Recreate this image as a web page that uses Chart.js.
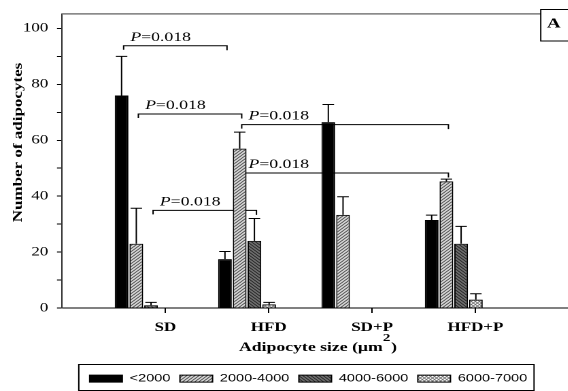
<!DOCTYPE html>
<html>
<head>
<meta charset="utf-8">
<script src="https://cdn.jsdelivr.net/npm/chart.js@4.4.1/dist/chart.umd.min.js"></script>
<style>
  html, body { margin: 0; padding: 0; overflow: hidden; background: #fff; }
  /* the figure's type is set wide, so the whole drawing is stretched sideways */
  #wrap { width: 418px; height: 394px; transform: scaleX(1.36); transform-origin: 0 0; }
</style>
</head>
<body>
<div id="wrap"><canvas id="chart" width="418" height="394"></canvas></div>
<script>
const S = 1.36;

const categories = ["SD", "HFD", "SD+P", "HFD+P"];
const sizeBins = ["<2000", "2000-4000", "4000-6000", "6000-7000"];

const lt2000 = [76, 17.5, 66.5, 31.5];
const s2000to4000 = [23, 57, 33.3, 45.3];
const s4000to6000 = [1, 24, 0, 23];
const s6000to7000 = [0, 1.3, 0, 3];

const lt2000Err = [14, 2.7, 6.3, 1.7];
const s2000to4000Err = [12.7, 5.9, 6.5, 0.8];
const s4000to6000Err = [1, 8, 0, 6.2];
const s6000to7000Err = [0, 0.7, 0, 2.1];

const yTickValues = [0, 10, 20, 30, 40, 50, 60, 70, 80, 90, 100];

// P-value brackets: series, from category, to category, height
const pSeries = [0, 1, 1, 1, 2];
const pFrom = [0, 0, 1, 1, 0];
const pTo = [1, 1, 3, 3, 1];
const pLevel = [93.8, 69.4, 65.6, 48.3, 34.9];
const pValue = ["0.018", "0.018", "0.018", "0.018", "0.018"];

const seriesValues = [lt2000, s2000to4000, s4000to6000, s6000to7000];
const seriesErrors = [lt2000Err, s2000to4000Err, s4000to6000Err, s6000to7000Err];

function makePattern(bg, fg, kind) {
  const c = document.createElement("canvas");
  c.width = c.height = 6;
  const g = c.getContext("2d");
  g.fillStyle = bg;
  g.fillRect(0, 0, 6, 6);
  g.strokeStyle = fg;
  g.lineWidth = 1.3;
  g.beginPath();
  if (kind === "/" || kind === "x") {
    g.moveTo(-1, 7); g.lineTo(7, -1);
    g.moveTo(-4, 4); g.lineTo(4, -4);
    g.moveTo(2, 10); g.lineTo(10, 2);
  }
  if (kind === "\\" || kind === "x") {
    g.moveTo(-1, -1); g.lineTo(7, 7);
    g.moveTo(-4, 2); g.lineTo(4, 10);
    g.moveTo(2, -4); g.lineTo(10, 4);
  }
  g.stroke();
  const p = g.createPattern(c, "repeat");
  p.setTransform(new DOMMatrix().scale(0.5));
  return p;
}

const fills = [
  "#000",
  makePattern("#d6d6d6", "#3a3a3a", "/"),
  makePattern("#6e6e6e", "#1c1c1c", "\\"),
  makePattern("#ffffff", "#6a6a6a", "x"),
];

function pText(ctx, x, y, value) {
  ctx.textAlign = "left";
  ctx.textBaseline = "alphabetic";
  ctx.font = "italic 13px 'Liberation Serif'";
  ctx.fillText("P", x, y);
  const w = ctx.measureText("P").width;
  ctx.font = "13px 'Liberation Serif'";
  ctx.fillText("=" + value, x + w, y);
}

const extras = {
  id: "extras",
  afterLayout(chart) {
    // the legend sits a little left of the plot centre
    const lg = chart.legend;
    lg.left -= 5;
    lg.right -= 5;
    if (lg.adjustHitBoxes) lg.adjustHitBoxes();
  },
  beforeDatasetsDraw(chart) {
    const ctx = chart.ctx, y = chart.scales.y;
    ctx.save();
    ctx.strokeStyle = "#000";
    ctx.fillStyle = "#000";
    ctx.lineWidth = 1;
    pLevel.forEach((lv, k) => {
      const meta = chart.getDatasetMeta(pSeries[k]);
      const x1 = meta.data[pFrom[k]].x + 1.5;
      const x2 = meta.data[pTo[k]].x + 1.5;
      const yy = y.getPixelForValue(lv);
      ctx.beginPath();
      ctx.moveTo(x1, yy + 4);
      ctx.lineTo(x1, yy);
      ctx.lineTo(x2, yy);
      ctx.lineTo(x2, yy + 4.5);
      ctx.stroke();
      pText(ctx, x1 + 5, yy - 5, pValue[k]);
    });
    ctx.restore();
  },
  afterDatasetsDraw(chart) {
    const ctx = chart.ctx, y = chart.scales.y;
    ctx.save();
    ctx.strokeStyle = "#000";
    ctx.lineWidth = 1;
    seriesValues.forEach((vals, d) => {
      chart.getDatasetMeta(d).data.forEach((bar, i) => {
        const e = seriesErrors[d][i];
        if (!e) return;
        const top = y.getPixelForValue(vals[i] + e);
        const half = bar.width * 0.42;
        ctx.beginPath();
        ctx.moveTo(bar.x, bar.y);
        ctx.lineTo(bar.x, top);
        ctx.moveTo(bar.x - half, top);
        ctx.lineTo(bar.x + half, top);
        ctx.stroke();
      });
    });
    ctx.restore();
  },
  afterDraw(chart) {
    const ctx = chart.ctx, a = chart.chartArea;
    ctx.save();
    ctx.fillStyle = "#000";

    // top frame and panel letter
    const boxL = 397.6;
    ctx.strokeStyle = "#7a7a7a";
    ctx.lineWidth = 1.5;
    ctx.beginPath();
    ctx.moveTo(a.left, a.top);
    ctx.lineTo(boxL, a.top);
    ctx.stroke();
    ctx.strokeStyle = "#000";
    ctx.lineWidth = 1;
    ctx.strokeRect(boxL, 9.5, 30, 31.5);
    ctx.font = "bold 14px 'Liberation Serif'";
    ctx.textAlign = "center";
    ctx.textBaseline = "middle";
    ctx.fillText("A", 407.2, 24);

    // y title, wide along its own baseline
    ctx.save();
    ctx.translate(13.5, 142.5);
    ctx.scale(1 / S, 1);
    ctx.rotate(-Math.PI / 2);
    ctx.scale(S, 1);
    ctx.font = "bold 12.5px 'Liberation Serif'";
    ctx.fillText("Number of adipocytes", 0, 0);
    ctx.restore();

    // x title with raised 2
    ctx.font = "bold 13px 'Liberation Serif'";
    ctx.textAlign = "left";
    ctx.textBaseline = "alphabetic";
    const main = "Adipocyte size (\u00b5m";
    const w1 = ctx.measureText(main).width;
    const wc = ctx.measureText(")").width;
    const gap = 6;
    const x0 = (a.left + a.right) / 2 + 2 - (w1 + gap + wc) / 2;
    ctx.fillText(main, x0, 351);
    ctx.fillText(")", x0 + w1 + gap, 351);
    ctx.font = "bold 11px 'Liberation Serif'";
    ctx.fillText("2", x0 + w1, 341);

    // legend frame
    const hb = chart.legend.legendHitBoxes;
    if (hb && hb.length) {
      const last = hb[hb.length - 1];
      const l = hb[0].left - 8;
      const r = last.left + last.width + 5;
      ctx.strokeRect(l, 364.5, r - l, 26);
    }
    ctx.restore();
  },
};

Chart.defaults.font.family = "'Liberation Serif'";
Chart.defaults.color = "#000";

new Chart("chart", {
  type: "bar",
  data: {
    datasets: sizeBins.map((name, d) => ({
      label: name,
      data: seriesValues[d].map((v, i) => ({ x: i + 1, y: v })),
      xAxisID: "xb",
      backgroundColor: fills[d],
      borderColor: "#000",
      borderWidth: 1,
      categoryPercentage: 0.57,
      barPercentage: 0.93,
    })),
  },
  options: {
    responsive: false,
    devicePixelRatio: 2,
    animation: false,
    layout: { padding: { top: 9.3, left: 0, right: 0, bottom: 0 } },
    plugins: {
      tooltip: { enabled: false },
      legend: {
        position: "bottom",
        fullSize: false,
        labels: {
          boxWidth: 24,
          boxHeight: 7,
          padding: 7,
          color: "#000",
          font: { family: "'Liberation Sans'", size: 10.7 },
        },
      },
    },
    scales: {
      xb: {
        type: "linear",
        display: false,
        offset: false,
        grid: { offset: false },
        min: 0.21,
        max: 5.11,
        afterBuildTicks: (s) => { s.ticks = categories.map((c, i) => ({ value: i + 1 })); },
      },
      x: {
        type: "linear",
        position: "bottom",
        offset: false,
        min: 0,
        max: 4.9,
        afterBuildTicks: (s) => { s.ticks = categories.map((c, i) => ({ value: i + 1 })); },
        afterFit: (s) => { s.height = 58.3; },
        ticks: {
          autoSkip: false,
          maxRotation: 0,
          padding: 7.5,
          color: "#000",
          font: { size: 12.5, weight: "bold" },
          callback: (v) => categories[v - 1],
        },
        grid: { offset: false, drawOnChartArea: false, tickLength: 5, color: "#000" },
        border: { color: "#000", width: 1 },
      },
      y: {
        min: 0,
        max: 105.2,
        afterBuildTicks: (s) => { s.ticks = yTickValues.map((v) => ({ value: v })); },
        afterFit: (s) => { s.width = 45.6; },
        ticks: {
          padding: 6.4,
          color: "#000",
          font: { size: 12.5 },
          callback: (v) => (v % 20 === 0 ? String(v) : ""),
        },
        grid: { drawOnChartArea: false, tickLength: 3.7, color: "#000" },
        border: { color: "#333", width: 1 },
      },
    },
  },
  plugins: [extras],
});
</script>
</body>
</html>
